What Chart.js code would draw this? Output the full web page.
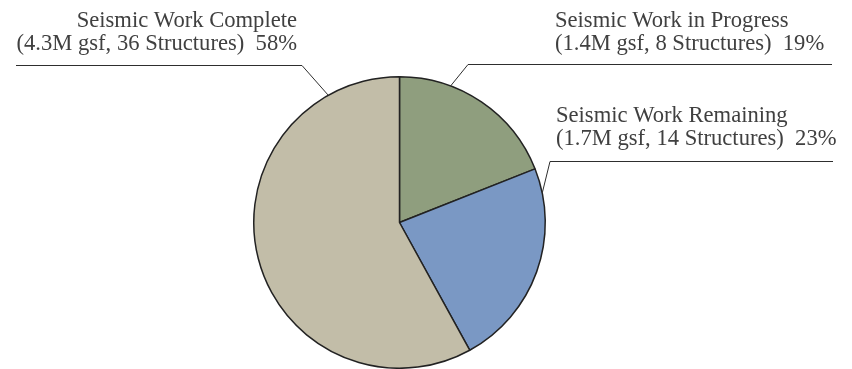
<!DOCTYPE html>
<html>
<head>
<meta charset="utf-8">
<script src="https://cdn.jsdelivr.net/npm/chart.js@4/dist/chart.umd.min.js"></script>
<style>
  html, body { margin: 0; padding: 0; background: #ffffff; }
  #wrap { width: 852px; height: 369px; }
</style>
</head>
<body>
<div id="wrap"><canvas id="chart" width="852" height="369"></canvas></div>
<script>
// Seismic retrofit status, share of gross square footage
const categories = ['Seismic Work in Progress', 'Seismic Work Remaining', 'Seismic Work Complete'];
const gsfMillions = ['1.4', '1.7', '4.3'];
const structures = [8, 14, 36];
const shares = [19, 23, 58];

const sliceColors = ['#8f9e7e', '#7a98c4', '#c2bda8'];
const textColor = '#404040';
const lineColor = '#2e2e2e';
const labelFont = '22.6px "Liberation Serif", "DejaVu Serif", serif';

// Callout layout: text block, underline and where along its slice the leader meets the rim
const callouts = [
  { index: 0, align: 'left',  textX: 555, base1: 27,  base2: 50,  lineY: 64,  x0: 468, x1: 832, elbow: 'x0', along: 0.30 },
  { index: 1, align: 'left',  textX: 556, base1: 122, base2: 145, lineY: 161, x0: 550, x1: 833, elbow: 'x0', along: 0.12 },
  { index: 2, align: 'right', textX: 297, base1: 27,  base2: 50,  lineY: 65,  x0: 16,  x1: 302, elbow: 'x1', along: 0.86 }
];

const calloutPlugin = {
  id: 'callouts',
  afterDraw(chart) {
    const ctx = chart.ctx;
    const arcs = chart.getDatasetMeta(0).data;
    ctx.save();
    ctx.font = labelFont;
    ctx.fillStyle = textColor;
    ctx.textBaseline = 'alphabetic';
    callouts.forEach(c => {
      const i = c.index;
      ctx.textAlign = c.align;
      ctx.fillText(categories[i], c.textX, c.base1);
      ctx.fillText('(' + gsfMillions[i] + 'M gsf, ' + structures[i] + ' Structures)  ' + shares[i] + '%', c.textX, c.base2);

      const arc = arcs[i];
      const p = arc.getProps(['x', 'y', 'startAngle', 'endAngle', 'outerRadius'], true);
      const a = p.startAngle + (p.endAngle - p.startAngle) * c.along;
      const ax = p.x + p.outerRadius * Math.cos(a);
      const ay = p.y + p.outerRadius * Math.sin(a);
      const ex = c.elbow === 'x0' ? c.x0 : c.x1;

      ctx.strokeStyle = lineColor;
      ctx.lineWidth = 1;
      ctx.beginPath();
      ctx.moveTo(c.x0, c.lineY + 0.5);
      ctx.lineTo(c.x1, c.lineY + 0.5);
      ctx.moveTo(ex, c.lineY + 0.5);
      ctx.lineTo(ax, ay);
      ctx.stroke();
    });
    ctx.restore();
  }
};

new Chart(document.getElementById('chart'), {
  type: 'pie',
  data: {
    labels: categories,
    datasets: [{
      data: shares,
      backgroundColor: sliceColors,
      borderColor: '#222222',
      borderWidth: 1.5,
      borderAlign: 'center'
    }]
  },
  options: {
    responsive: false,
    animation: false,
    rotation: 0,
    layout: { padding: { left: 253, right: 306, top: 76, bottom: 0 } },
    plugins: {
      legend: { display: false },
      tooltip: { enabled: false }
    }
  },
  plugins: [calloutPlugin]
});
</script>
</body>
</html>
